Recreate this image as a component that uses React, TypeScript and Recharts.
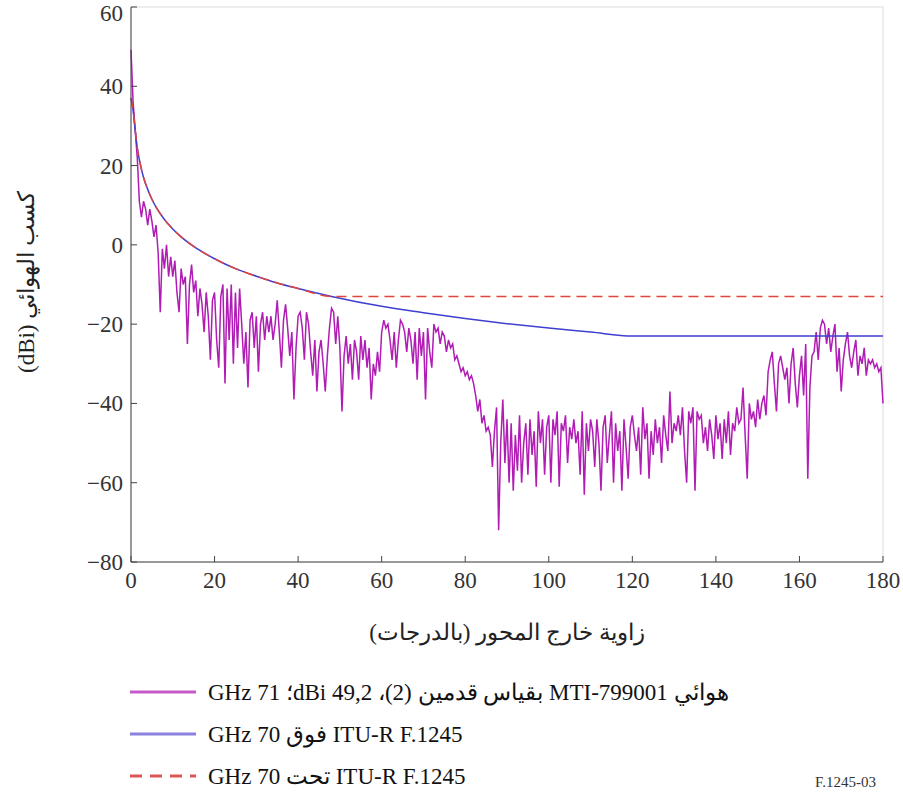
import React from 'react';
import { LineChart, Line, XAxis, YAxis, CartesianGrid, Label } from 'recharts';

// measured pattern, one value every 0.5 degree from 0 to 180
const MEASURED_STEP = 0.5;
const MEASURED_GAIN = [
  49.2, 36, 29, 22, 11, 7, 11, 9, 5, 9, 6, 2, 5, -2, -17, -1, -6, 0, -8, -3,
  -8, -4, -12, -17, -6, -10, -8, -25, -10, -5, -12, -9, -18, -11, -15, -22, -12, -18, -29, -14,
  -12, -24, -31, -13, -10, -35, -11, -24, -10, -30, -12, -26, -11, -20, -30, -22, -36, -19, -17, -26,
  -18, -32, -20, -17, -24, -18, -22, -18, -24, -20, -14, -22, -31, -19, -15, -21, -28, -22, -39, -26,
  -18, -17, -21, -29, -17, -20, -27, -33, -24, -37, -27, -24, -30, -37, -28, -21, -16, -17, -25, -18,
  -26, -42, -28, -23, -30, -25, -34, -24, -27, -34, -23, -29, -24, -31, -26, -39, -30, -33, -27, -32,
  -22, -19, -21, -20, -24, -29, -22, -31, -24, -19, -20, -22, -27, -21, -24, -30, -22, -34, -21, -28,
  -22, -39, -21, -27, -31, -20, -22, -21, -25, -22, -23, -27, -24, -26, -25, -29, -28, -30, -32, -31,
  -33, -32, -34, -33, -35, -38, -42, -39, -45, -43, -47, -46, -48, -56, -47, -41, -72, -50, -39, -55,
  -44, -60, -45, -62, -48, -57, -43, -60, -50, -45, -58, -44, -53, -47, -61, -42, -50, -44, -58, -46,
  -43, -60, -44, -48, -42, -61, -45, -47, -43, -55, -46, -49, -44, -50, -47, -58, -42, -63, -45, -52,
  -44, -47, -56, -44, -50, -62, -46, -43, -55, -48, -42, -60, -45, -52, -47, -62, -44, -51, -59, -46,
  -43, -48, -52, -46, -58, -41, -49, -45, -59, -47, -53, -44, -50, -46, -55, -43, -48, -52, -37, -50,
  -45, -47, -43, -48, -41, -52, -60, -42, -45, -41, -62, -42, -44, -43, -50, -46, -52, -44, -48, -54,
  -43, -49, -45, -54, -44, -50, -42, -53, -45, -47, -41, -45, -44, -36, -48, -59, -40, -44, -42, -46,
  -39, -44, -40, -38, -43, -32, -29, -27, -35, -42, -30, -28, -31, -34, -31, -40, -30, -26, -35, -41,
  -33, -28, -38, -25, -59, -36, -28, -27, -22, -29, -21, -19, -20, -25, -21, -27, -23, -20, -32, -26,
  -37, -29, -25, -22, -28, -31, -27, -24, -33, -28, -30, -26, -33, -29, -30, -29, -31, -30, -32, -31,
  -40,
];

// ITU-R F.1245 reference envelopes
const ABOVE_ANGLES = [0, 0.5, 1, 1.5, 2, 3, 4, 5, 6, 8, 10, 12, 15, 20, 25, 30, 35, 40, 48, 60, 70, 80, 90, 100, 110, 120, 180];
const ABOVE_GAIN = [37, 34, 29, 24.5, 21.5, 17, 14, 11.5, 9.5, 6.4, 4, 2, -0.4, -3.5, -6, -7.9, -9.6, -11, -13, -15.5, -17.1, -18.6, -19.9, -21, -22, -23, -23];

const BELOW_ANGLES = [0, 0.5, 1, 1.5, 2, 3, 4, 5, 6, 8, 10, 12, 15, 20, 25, 30, 35, 40, 48, 180];
const BELOW_GAIN = [37, 34, 29, 24.5, 21.5, 17, 14, 11.5, 9.5, 6.4, 4, 2, -0.4, -3.5, -6, -7.9, -9.6, -11, -13, -13];

const X_TICKS = [0, 20, 40, 60, 80, 100, 120, 140, 160, 180];
const Y_TICKS = [-80, -60, -40, -20, 0, 20, 40, 60];

const LEGEND = [
  { label: 'هوائي MTI-799001 بقياس قدمين (2)، 49,2 dBi؛ 71 GHz', color: '#c45ac8', dash: undefined },
  { label: 'ITU-R F.1245 فوق 70 GHz', color: '#8c80e0', dash: undefined },
  { label: 'ITU-R F.1245 تحت 70 GHz', color: '#dd5555', dash: '12 8' },
];

const measured = MEASURED_GAIN.map((g, i) => ({ angle: i * MEASURED_STEP, g }));
const above = ABOVE_ANGLES.map((a, i) => ({ angle: a, g: ABOVE_GAIN[i] }));
const below = BELOW_ANGLES.map((a, i) => ({ angle: a, g: BELOW_GAIN[i] }));

const FONT = "'Liberation Serif', 'Times New Roman', Tinos, serif";

const fmt = (v: number) => (v < 0 ? '\u2212' + Math.abs(v) : String(v));

const XTick = ({ x, y, payload }: any) => (
  <text x={x} y={y} dy="0.72em" textAnchor="middle" fontSize={23} fill="#333" fontFamily={FONT}>
    {fmt(payload.value)}
  </text>
);

// top label is nudged down so it stays inside the picture, as in the original
const YTick = ({ x, y, payload }: any) => (
  <text x={x} y={Math.max(y, 13)} dy="0.35em" textAnchor="end" fontSize={23} fill="#333" fontFamily={FONT}>
    {fmt(payload.value)}
  </text>
);

export default function App() {
  return (
    <div style={{ position: 'absolute', left: 0, top: 0, width: 903, height: 793, background: '#fff', fontFamily: FONT, overflow: 'hidden' }}>
      <LineChart width={903} height={650} margin={{ top: 7, right: 20, left: 0, bottom: 8 }}>
        <CartesianGrid stroke="#dcdcdc" strokeWidth={1} />
        <XAxis
          xAxisId="b"
          dataKey="angle"
          type="number"
          domain={[0, 180]}
          ticks={X_TICKS}
          height={80}
          tickSize={-6}
          tickMargin={15}
          stroke="#444"
          tick={<XTick />}
          allowDuplicatedCategory={false}
        >
          <Label
            content={() => (
              <text x={507} y={640} textAnchor="middle" direction="rtl" fontSize={23} fill="#222" fontFamily={FONT}>
                زاوية خارج المحور (بالدرجات)
              </text>
            )}
          />
        </XAxis>
        <XAxis xAxisId="t" orientation="top" type="number" domain={[0, 180]} ticks={X_TICKS} height={0} tickSize={-6} tick={false} stroke="#444" />
        <YAxis
          yAxisId="l"
          type="number"
          domain={[-80, 60]}
          ticks={Y_TICKS}
          width={131}
          tickSize={-6}
          tickMargin={14}
          stroke="#444"
          tick={<YTick />}
        >
          <Label
            content={() => (
              <text x={34} y={282} transform="rotate(-90 34 282)" textAnchor="middle" direction="rtl" fontSize={23} fill="#222" fontFamily={FONT}>
                كسب الهوائي (dBi)
              </text>
            )}
          />
        </YAxis>
        <YAxis yAxisId="r" orientation="right" type="number" domain={[-80, 60]} ticks={Y_TICKS} width={0} tickSize={-6} tick={false} stroke="#444" />
        <Line xAxisId="b" yAxisId="l" data={measured} dataKey="g" type="linear" stroke="#b01cb4" strokeWidth={1.5} dot={false} isAnimationActive={false} />
        <Line xAxisId="b" yAxisId="l" data={above} dataKey="g" type="monotone" stroke="#3f3fd0" strokeWidth={1.5} dot={false} isAnimationActive={false} />
        <Line xAxisId="b" yAxisId="l" data={below} dataKey="g" type="monotone" stroke="#e0443c" strokeWidth={1.5} strokeDasharray="10 6" dot={false} isAnimationActive={false} />
      </LineChart>
      <div style={{ position: 'absolute', left: 130, top: 671 }}>
        {LEGEND.map((item) => (
          <div key={item.label} style={{ display: 'flex', alignItems: 'center', height: 42 }}>
            <svg width={66} height={6} style={{ marginRight: 12 }}>
              <line x1={0} y1={3} x2={66} y2={3} stroke={item.color} strokeWidth={3} strokeDasharray={item.dash} />
            </svg>
            <span dir="rtl" style={{ fontSize: 23, color: '#111', whiteSpace: 'nowrap', unicodeBidi: 'isolate' }}>{item.label}</span>
          </div>
        ))}
      </div>
      <div style={{ position: 'absolute', left: 815, top: 774, fontSize: 15, color: '#333' }}>F.1245-03</div>
    </div>
  );
}
